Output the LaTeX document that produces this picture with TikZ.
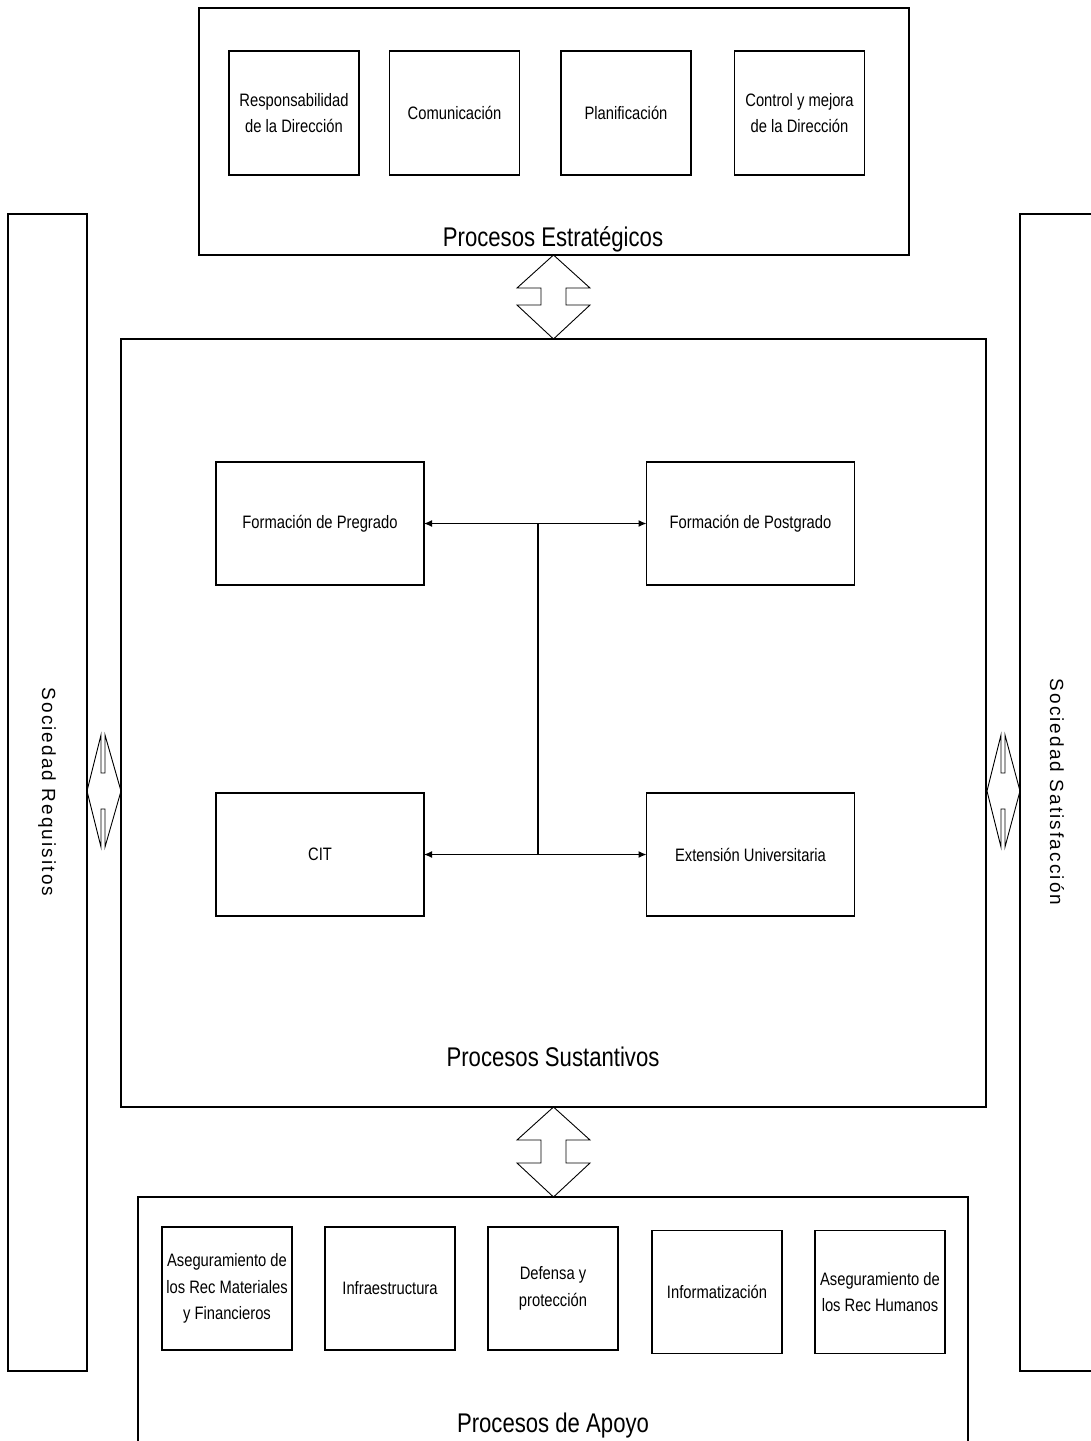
\documentclass[tikz,border=0pt]{standalone}
\usepackage{fontspec}
\setmainfont{Liberation Sans}
\newfontfamily\narrowfont[FakeStretch=0.82]{Liberation Sans}
\newfontfamily\spacedfont[LetterSpace=11]{Liberation Sans}
\usetikzlibrary{arrows.meta}
\begin{document}
\begin{tikzpicture}[x=1pt,y=-1pt,
  every node/.style={inner sep=0pt,outer sep=0pt},
  frame/.style={draw,line width=1.2pt},
  blockarrow/.style={draw,line width=0.9pt},
  pbox/.style={draw,line width=1.1pt,align=center,
    font=\narrowfont\fontsize{18}{26.5}\selectfont},
  smallbox/.style={pbox,minimum width=130pt,minimum height=124pt},
  bigbox/.style={pbox,minimum width=208pt,minimum height=123pt},
  grouptitle/.style={anchor=base,font=\narrowfont\fontsize{27}{30}\selectfont},
  sidetitle/.style={rotate=-90,font=\spacedfont\fontsize{19}{22}\selectfont},
  link/.style={line width=1.2pt,-{Latex[length=8pt,width=7pt]}}
]
\clip (0,0) rectangle (1091,1441);

% outer frames
\node[frame,minimum width=79pt,minimum height=1157pt] (req) at (47.5,792.5) {};
\node[frame,minimum width=90pt,minimum height=1157pt] (sat) at (1065,792.5) {};
\node[frame,minimum width=710pt,minimum height=247pt] (estr) at (554,131.5) {};
\node[frame,minimum width=865pt,minimum height=768pt] (sust) at (553.5,723) {};
\node[frame,minimum width=830pt,minimum height=300pt] (apoyo) at (553,1347) {};

% side labels
\node[sidetitle] (reqlbl) at (47,792) {Sociedad Requisitos};
\node[sidetitle] (satlbl) at (1057,792) {Sociedad Satisfacción};

% group titles
\node[grouptitle] (estrlbl) at (553,246) {Procesos Estratégicos};
\node[grouptitle] (sustlbl) at (553,1066) {Procesos Sustantivos};
\node[grouptitle] (apoylbl) at (553,1432) {Procesos de Apoyo};

% strategic processes
\node[smallbox] (resp) at (294,113) {Responsabilidad\\de la Dirección};
\node[smallbox] (comu) at (454.5,113) {Comunicación};
\node[smallbox] (plan) at (626,113) {Planificación};
\node[smallbox] (ctrl) at (799.5,113) {Control y mejora\\de la Dirección};

% core processes
\node[bigbox] (preg) at (320,523.5) {Formación de Pregrado};
\node[bigbox] (post) at (750.5,523.5) {Formación de Postgrado};
\node[bigbox] (cit) at (320,854.5) {CIT};
\node[bigbox] (ext) at (750.5,854.5) {Extensión Universitaria};

\coordinate (j1) at (538,523.5);
\coordinate (j2) at (538,854.5);
\draw[line width=1.2pt] (j1) -- (j2);
\draw[link] (j1) -- (preg.east);
\draw[link] (j1) -- (post.west);
\draw[link] (j2) -- (cit.east);
\draw[link] (j2) -- (ext.west);

% support processes
\node[smallbox,minimum height=123pt] (asmat) at (227,1288.5) {Aseguramiento de\\los Rec Materiales\\y Financieros};
\node[smallbox,minimum height=123pt] (infra) at (390,1288.5) {Infraestructura};
\node[smallbox,minimum height=123pt] (def) at (553,1288.5) {Defensa y\\protección};
\node[smallbox,minimum height=123pt] (info) at (717,1292) {Informatización};
\node[smallbox,minimum height=123pt] (ashum) at (880,1292) {Aseguramiento de\\los Rec Humanos};

% block double arrows between the process groups
\draw[blockarrow] (553.5,255) -- (590,288) -- (566,288) -- (566,305) -- (590,305)
  -- (553.5,339) -- (517,305) -- (541,305) -- (541,288) -- (517,288) -- cycle;
\draw[blockarrow] (553.5,1107) -- (590,1140) -- (566,1140) -- (566,1163) -- (590,1163)
  -- (553.5,1197) -- (517,1163) -- (541,1163) -- (541,1140) -- (517,1140) -- cycle;

% block double arrows towards society
\draw[blockarrow] (87,791) -- (101,735) -- (101,773) -- (105,773) -- (105,735)
  -- (121,791) -- (105,847) -- (105,809) -- (101,809) -- (101,847) -- cycle;
\draw[blockarrow] (987,791) -- (1001,735) -- (1001,773) -- (1005,773) -- (1005,735)
  -- (1020,791) -- (1005,847) -- (1005,809) -- (1001,809) -- (1001,847) -- cycle;
\end{tikzpicture}
\end{document}
